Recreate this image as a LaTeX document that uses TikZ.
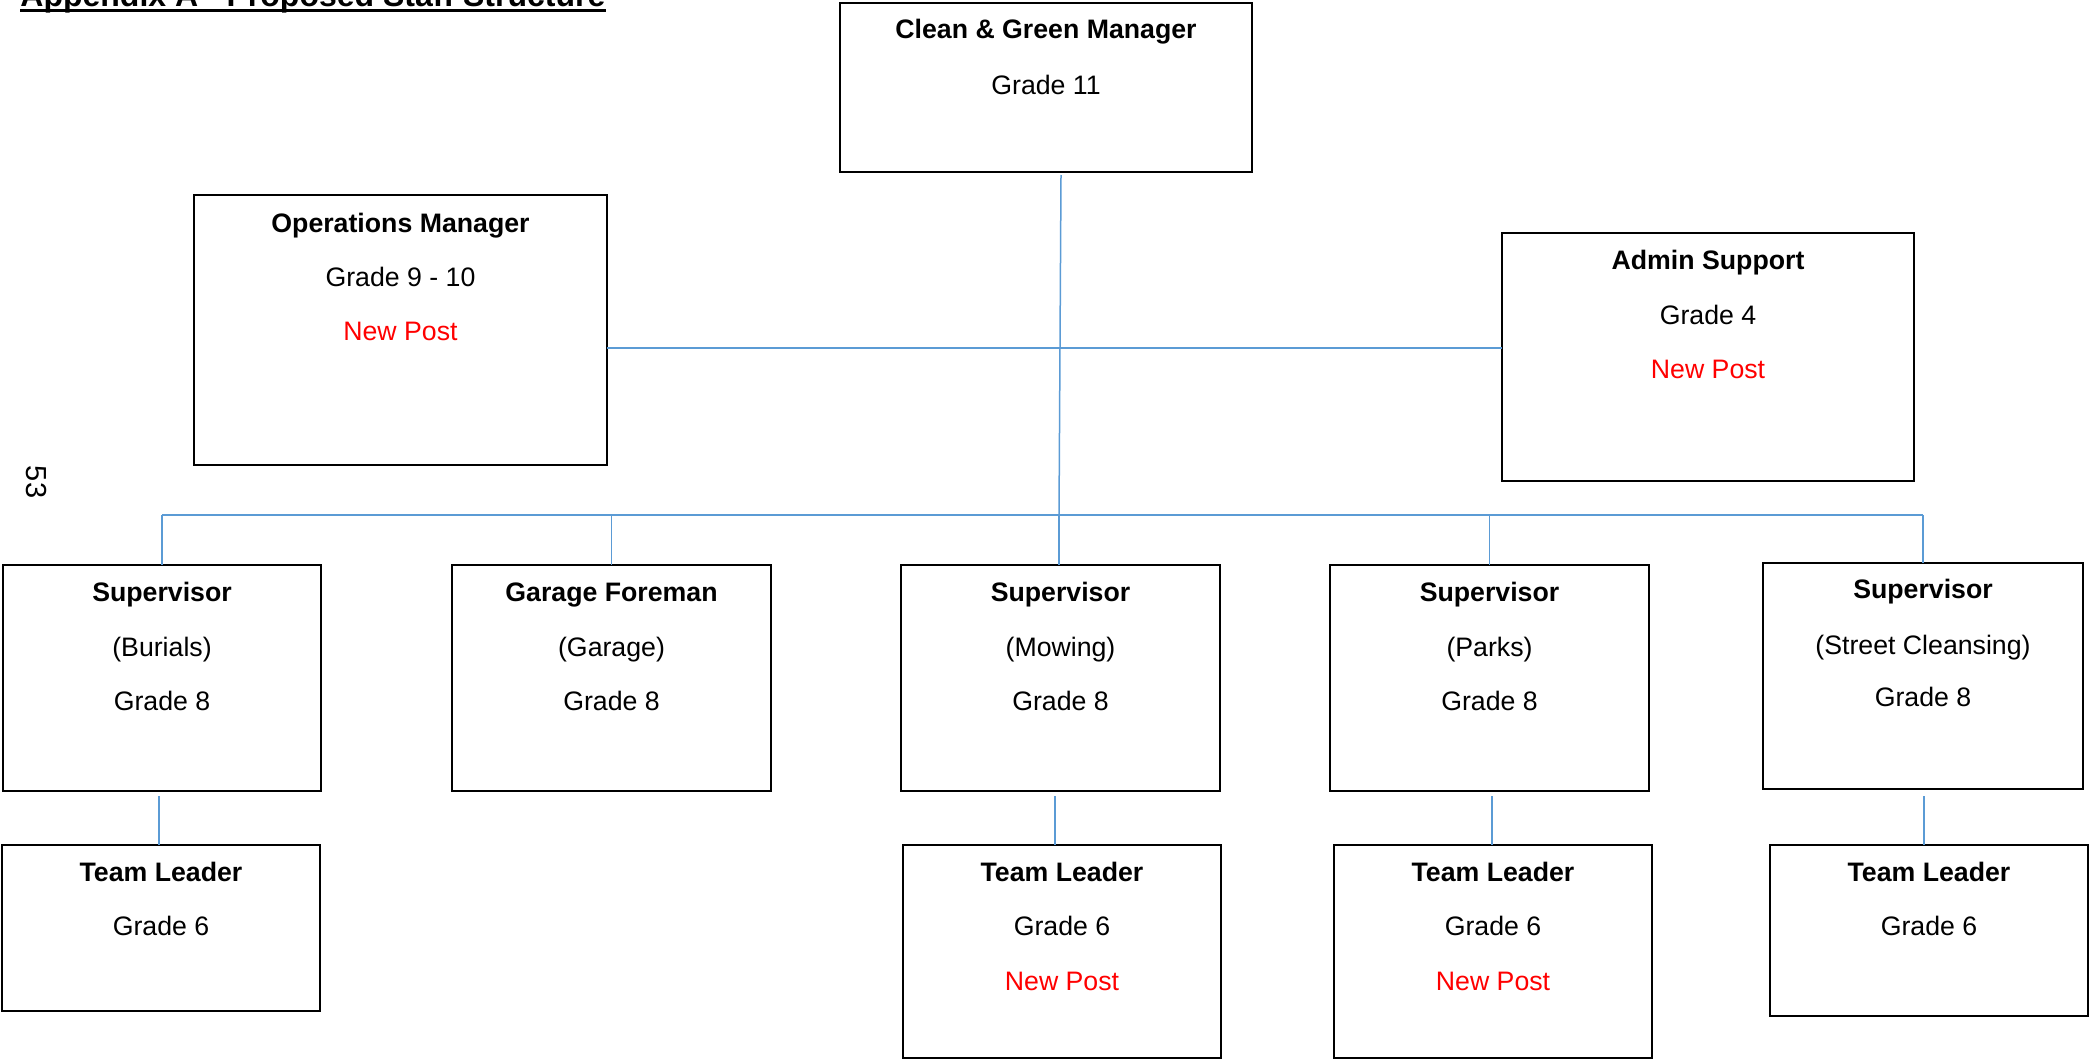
\documentclass[tikz,border=0pt]{standalone}
\usepackage{fontspec}
\setmainfont{Liberation Sans}
\usetikzlibrary{calc}
\definecolor{connblue}{RGB}{91,155,213}
\definecolor{postred}{RGB}{255,0,0}
\tikzset{
 box/.style={draw=black, line width=1pt, inner sep=0pt, outer sep=0pt, anchor=north west},
 conn/.style={draw=connblue, line width=0.75pt},
 headtxt/.style={anchor=base, inner sep=0pt, font=\fontsize{13.35pt}{15pt}\selectfont\bfseries},
 bodytxt/.style={anchor=base, inner sep=0pt, font=\fontsize{13.35pt}{15pt}\selectfont},
 newtxt/.style={bodytxt, text=postred},
}
\newcommand\orgbox[5]{\node[box, minimum width=#4*0.5pt, minimum height=#5*0.5pt] (#1) at (#2,#3) {};}

\begin{document}
\begin{tikzpicture}[x=0.5pt,y=-0.5pt]
\useasboundingbox (0,0) rectangle (2091,1060);

% title (cut at top of page, as in the reference)
\node[anchor=base west, inner sep=0pt, font=\fontsize{16pt}{18pt}\selectfont\bfseries] (title) at (20,6) {Appendix A - Proposed Staff Structure};
\draw[line width=1.5pt] ([yshift=-2.25pt]title.base west) -- ([yshift=-2.25pt]title.base east);

% page number
\node[rotate=-90, inner sep=0pt, font=\fontsize{14.5pt}{16pt}\selectfont] (pg) at (36,482) {53};

% boxes
\orgbox{cgm}{840}{3}{412}{169}
\orgbox{ops}{194}{195}{413}{270}
\orgbox{adm}{1502}{233}{412}{248}
\orgbox{s1}{3}{565}{318}{226}
\orgbox{gf}{452}{565}{319}{226}
\orgbox{s2}{901}{565}{319}{226}
\orgbox{s3}{1330}{565}{319}{226}
\orgbox{s4}{1763}{563}{320}{226}
\orgbox{t1}{2}{845}{318}{166}
\orgbox{t2}{903}{845}{318}{213}
\orgbox{t3}{1334}{845}{318}{213}
\orgbox{t4}{1770}{845}{318}{171}

% texts
\node[headtxt] (cgmA) at ($(cgm.north)+(0,36)$) {Clean \& Green Manager};
\node[bodytxt] (cgmB) at ($(cgm.north)+(0,91)$) {Grade 11};

\node[headtxt] (opsA) at ($(ops.north)+(0,37)$) {Operations Manager};
\node[bodytxt] (opsB) at ($(ops.north)+(0,91)$) {Grade 9 - 10};
\node[newtxt] (opsC) at ($(ops.north)+(0,145)$) {New Post};

\node[headtxt] (admA) at ($(adm.north)+(0,36)$) {Admin Support};
\node[bodytxt] (admB) at ($(adm.north)+(0,91)$) {Grade 4};
\node[newtxt] (admC) at ($(adm.north)+(0,145)$) {New Post};

\node[headtxt] (s1A) at ($(s1.north)+(0,36)$) {Supervisor};
\node[bodytxt] (s1B) at ($(s1.north)+(0,91)$) {(Burials)};
\node[bodytxt] (s1C) at ($(s1.north)+(0,145)$) {Grade 8};

\node[headtxt] (gfA) at ($(gf.north)+(0,36)$) {Garage Foreman};
\node[bodytxt] (gfB) at ($(gf.north)+(0,91)$) {(Garage)};
\node[bodytxt] (gfC) at ($(gf.north)+(0,145)$) {Grade 8};

\node[headtxt] (s2A) at ($(s2.north)+(0,36)$) {Supervisor};
\node[bodytxt] (s2B) at ($(s2.north)+(0,91)$) {(Mowing)};
\node[bodytxt] (s2C) at ($(s2.north)+(0,145)$) {Grade 8};

\node[headtxt] (s3A) at ($(s3.north)+(0,36)$) {Supervisor};
\node[bodytxt] (s3B) at ($(s3.north)+(0,91)$) {(Parks)};
\node[bodytxt] (s3C) at ($(s3.north)+(0,145)$) {Grade 8};

\node[headtxt] (s4A) at ($(s4.north)+(0,35)$) {Supervisor};
\node[bodytxt] (s4B) at ($(s4.north)+(0,91)$) {(Street Cleansing)};
\node[bodytxt] (s4C) at ($(s4.north)+(0,143)$) {Grade 8};

\node[headtxt] (t1A) at ($(t1.north)+(0,36)$) {Team Leader};
\node[bodytxt] (t1B) at ($(t1.north)+(0,90)$) {Grade 6};

\node[headtxt] (t2A) at ($(t2.north)+(0,36)$) {Team Leader};
\node[bodytxt] (t2B) at ($(t2.north)+(0,90)$) {Grade 6};
\node[newtxt] (t2C) at ($(t2.north)+(0,145)$) {New Post};

\node[headtxt] (t3A) at ($(t3.north)+(0,36)$) {Team Leader};
\node[bodytxt] (t3B) at ($(t3.north)+(0,90)$) {Grade 6};
\node[newtxt] (t3C) at ($(t3.north)+(0,145)$) {New Post};

\node[headtxt] (t4A) at ($(t4.north)+(0,36)$) {Team Leader};
\node[bodytxt] (t4B) at ($(t4.north)+(0,90)$) {Grade 6};

% connectors
\coordinate (cgmO) at (1061,175);
\coordinate (busC) at (1059,515);
\coordinate (hl) at (0,348);
\draw[conn] (cgmO) -- (busC);
\draw[conn] (ops.east |- hl) -- (adm.west |- hl);
\draw[conn] (s1.north |- busC) -- (s4.north |- busC);
\draw[conn] (s1.north |- busC) -- (s1.north);
\draw[conn] (gf.north |- busC) -- (gf.north);
\draw[conn] (busC) -- (busC |- s2.north);
\draw[conn] (s3.north |- busC) -- (s3.north);
\draw[conn] (s4.north |- busC) -- (s4.north);

\coordinate (d1) at (159,796);
\coordinate (d2) at (1055,796);
\coordinate (d3) at (1492,796);
\coordinate (d4) at (1924,796);
\draw[conn] (d1) -- (d1 |- t1.north);
\draw[conn] (d2) -- (d2 |- t2.north);
\draw[conn] (d3) -- (d3 |- t3.north);
\draw[conn] (d4) -- (d4 |- t4.north);
\end{tikzpicture}
\end{document}
